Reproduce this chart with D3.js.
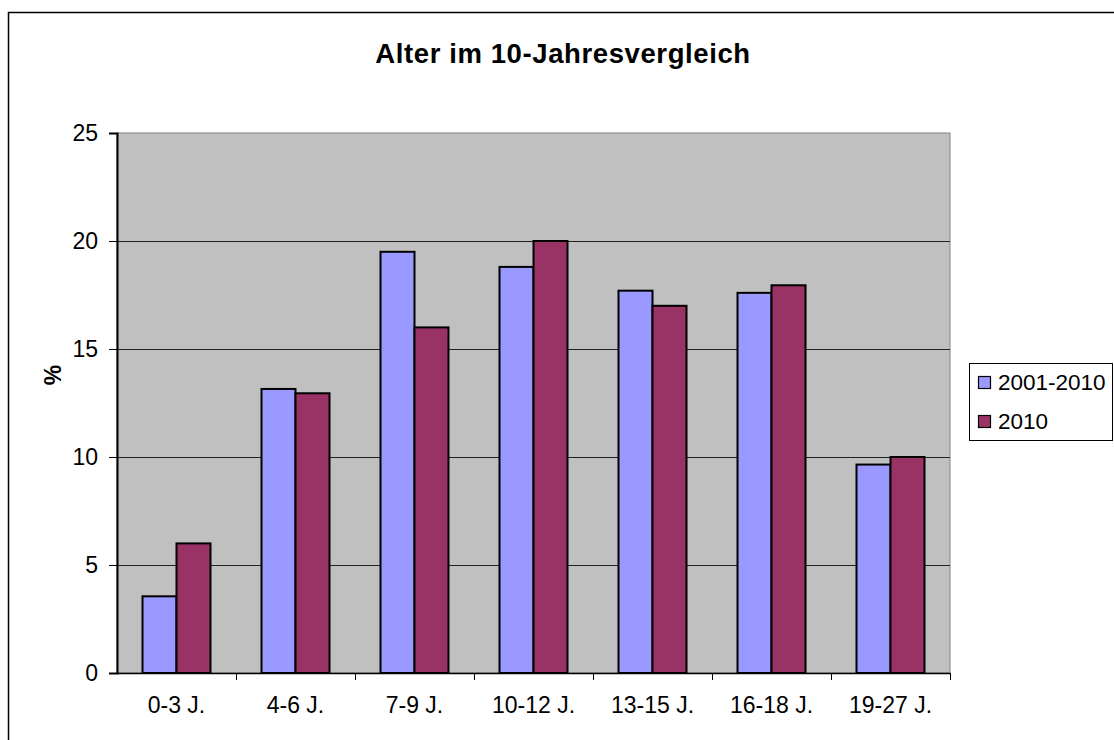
<!DOCTYPE html>
<html>
<head>
<meta charset="utf-8">
<script src="https://cdn.jsdelivr.net/npm/d3@7"></script>
<style>
  body { margin: 0; background: #fff; }
  svg { display: block; font-family: "Liberation Sans", Arial, sans-serif; }
</style>
</head>
<body>
<svg width="1114" height="740"></svg>
<script>
var categories = ["0-3 J.", "4-6 J.", "7-9 J.", "10-12 J.", "13-15 J.", "16-18 J.", "19-27 J."]
var seriesNames = ["2001-2010", "2010"]
var values2001_2010 = [3.55, 13.15, 19.5, 18.8, 17.7, 17.6, 9.65]
var values2010 = [6.0, 12.95, 16.0, 20.0, 17.0, 17.95, 10.0]
var yTicks = [0, 5, 10, 15, 20, 25]
var colors = ["#9999ff", "#993366"]

var svg = d3.select("svg")
var plot = {left: 117, right: 950, top: 133, bottom: 673}

// outer chart border
svg.append("rect")
  .attr("x", 8.5).attr("y", 12.5)
  .attr("width", 1130).attr("height", 760)
  .attr("fill", "#fff").attr("stroke", "#000").attr("stroke-width", 1.5)

var x = d3.scaleBand().domain(categories).range([plot.left, plot.right])
var y = d3.scaleLinear().domain([0, 25]).range([plot.bottom, plot.top])

// plot area
svg.append("rect")
  .attr("x", plot.left).attr("y", plot.top)
  .attr("width", plot.right - plot.left).attr("height", plot.bottom - plot.top)
  .attr("fill", "#c0c0c0").attr("stroke", "#808080").attr("stroke-width", 1)

// gridlines
svg.append("g")
  .selectAll("line")
  .data(yTicks.filter(d => d > 0 && d < 25))
  .join("line")
  .attr("x1", plot.left).attr("x2", plot.right)
  .attr("y1", d => Math.round(y(d)) + 0.5).attr("y2", d => Math.round(y(d)) + 0.5)
  .attr("stroke", "#222").attr("stroke-width", 1)

// bars
var bw = x.bandwidth() / 3.5
var data = categories.map((c, i) => ({cat: c, vals: [values2001_2010[i], values2010[i]]}))
var groups = svg.append("g").selectAll("g").data(data).join("g")
groups.selectAll("rect")
  .data(d => d.vals.map((v, j) => ({cat: d.cat, v: v, j: j})))
  .join("rect")
  .attr("x", d => x(d.cat) + bw * 0.75 + d.j * bw)
  .attr("y", d => y(d.v))
  .attr("width", bw)
  .attr("height", d => y(0) - y(d.v))
  .attr("fill", d => colors[d.j])
  .attr("stroke", "#000").attr("stroke-width", 2)

// y axis
var yAxis = svg.append("g")
  .attr("transform", `translate(${plot.left},0)`)
  .call(d3.axisLeft(y).tickValues(yTicks).tickSize(8).tickPadding(11))
yAxis.select(".domain").attr("stroke", "#000").attr("stroke-width", 2)
yAxis.selectAll("line").attr("stroke", "#000")
yAxis.selectAll("text").attr("font-size", 23).attr("fill", "#000")
  .attr("font-family", "Liberation Sans, Arial, sans-serif")

// x axis
var xAxis = svg.append("g")
  .attr("transform", `translate(0,${plot.bottom})`)
  .call(d3.axisBottom(x).tickSize(0).tickPadding(24))
xAxis.select(".domain").attr("stroke", "#000").attr("stroke-width", 1.5)
xAxis.selectAll("text").attr("font-size", 23).attr("fill", "#000")
  .attr("font-family", "Liberation Sans, Arial, sans-serif")
svg.append("g")
  .selectAll("line")
  .data(categories.slice(1).concat(["end"]))
  .join("line")
  .attr("x1", d => Math.round(d === "end" ? plot.right : x(d)) + 0.5)
  .attr("x2", d => Math.round(d === "end" ? plot.right : x(d)) + 0.5)
  .attr("y1", plot.bottom).attr("y2", plot.bottom + 7)
  .attr("stroke", "#000")

// title
svg.append("text")
  .attr("x", 563).attr("y", 63)
  .attr("text-anchor", "middle")
  .attr("font-size", 27.5).attr("font-weight", "bold")
  .attr("letter-spacing", 0.6)
  .text("Alter im 10-Jahresvergleich")

// y label
svg.append("text")
  .attr("transform", "translate(61,375) rotate(-90)")
  .attr("text-anchor", "middle")
  .attr("font-size", 23).attr("font-weight", "bold")
  .text("%")

// legend
var legend = svg.append("g")
legend.append("rect")
  .attr("x", 969.5).attr("y", 363.5).attr("width", 143).attr("height", 77)
  .attr("fill", "#fff").attr("stroke", "#000").attr("stroke-width", 1)
var items = legend.selectAll("g.item").data(seriesNames).join("g")
  .attr("transform", (d, i) => `translate(978,${382 + i * 39})`)
items.append("rect")
  .attr("x", 0.5).attr("y", -5.5).attr("width", 12).attr("height", 12)
  .attr("fill", (d, i) => colors[i]).attr("stroke", "#000").attr("stroke-width", 1.2)
items.append("text")
  .attr("x", 20).attr("y", 8)
  .attr("font-size", 22.5)
  .text(d => d)
</script>
</body>
</html>
